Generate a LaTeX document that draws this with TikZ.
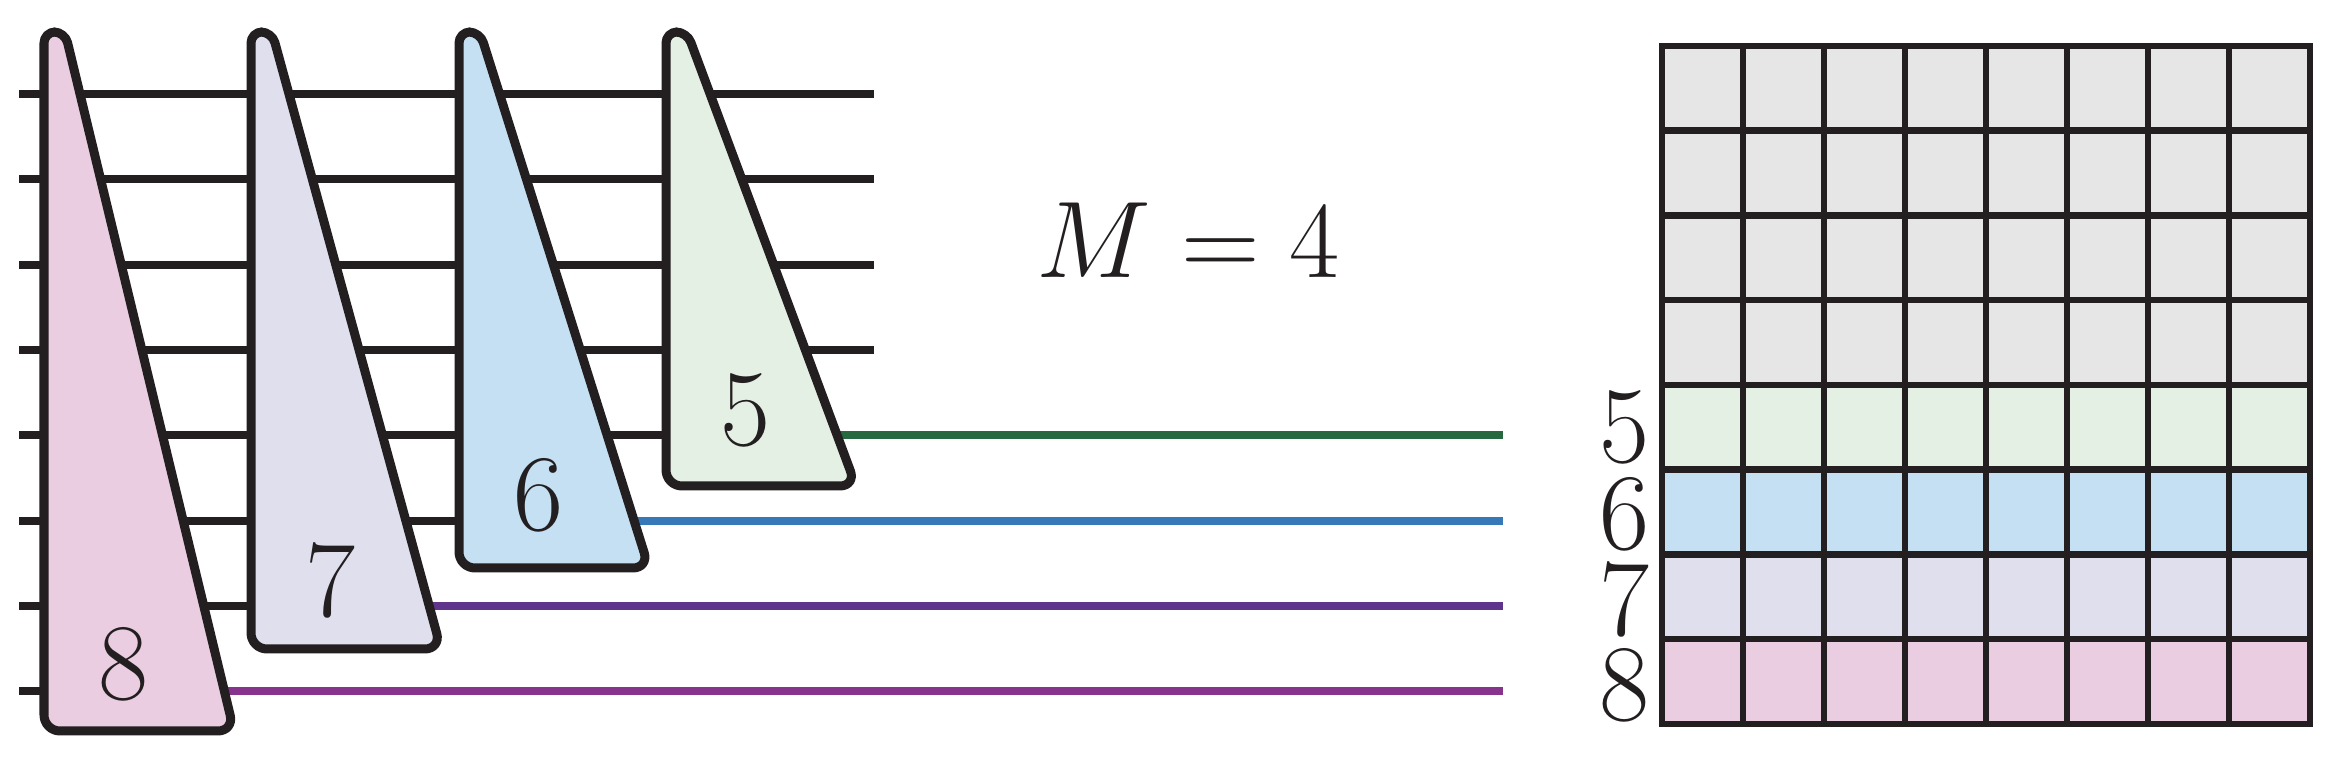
\RequirePackage{fix-cm}
\documentclass[tikz,border=0pt]{standalone}

\definecolor{ink}{HTML}{231F20}
\definecolor{fillpink}{HTML}{EACDE0}
\definecolor{filllav}{HTML}{DFDFEE}
\definecolor{fillblue}{HTML}{C6E0F3}
\definecolor{fillgreen}{HTML}{E4F0E4}
\definecolor{fillgrey}{HTML}{E6E6E6}
\definecolor{wiregreen}{HTML}{266840}
\definecolor{wireblue}{HTML}{3778B9}
\definecolor{wirepurple}{HTML}{5E348C}
\definecolor{wiremagenta}{HTML}{87328C}

\begin{document}
\begin{tikzpicture}[
  x=0.01cm, y=-0.01cm,
  every node/.style={font=\fontsize{31}{31}\selectfont, inner sep=0pt, text=ink},
  wire/.style={draw=ink, line width=0.075cm},
  gatebox/.style={draw=ink, line width=0.09cm, line join=round},
  gridline/.style={draw=ink, line width=0.065cm},
]
\useasboundingbox (0,0) rectangle (2334,768);

% Wire end points
\coordinate (w1l) at (19,94);  \coordinate (w1r) at (874,94);
\coordinate (w2l) at (19,179); \coordinate (w2r) at (874,179);
\coordinate (w3l) at (19,265); \coordinate (w3r) at (874,265);
\coordinate (w4l) at (19,350); \coordinate (w4r) at (874,350);
\coordinate (w5l) at (19,435); \coordinate (w5g) at (666,435); \coordinate (w5r) at (1503,435);
\coordinate (w6l) at (19,521); \coordinate (w6g) at (459,521); \coordinate (w6r) at (1503,521);
\coordinate (w7l) at (19,606); \coordinate (w7g) at (251,606); \coordinate (w7r) at (1503,606);
\coordinate (w8l) at (19,691); \coordinate (w8g) at (44,691);  \coordinate (w8r) at (1503,691);

% Black wires
\draw[wire] (w1l) -- (w1r);
\draw[wire] (w2l) -- (w2r);
\draw[wire] (w3l) -- (w3r);
\draw[wire] (w4l) -- (w4r);
\draw[wire] (w5l) -- (w5g);
\draw[wire] (w6l) -- (w6g);
\draw[wire] (w7l) -- (w7g);
\draw[wire] (w8l) -- (w8g);

% Coloured outputs
\draw[wire, draw=wiregreen] (w5g) -- (w5r);
\draw[wire, draw=wireblue] (w6g) -- (w6r);
\draw[wire, draw=wirepurple] (w7g) -- (w7r);
\draw[wire, draw=wiremagenta] (w8g) -- (w8r);

% Gate 8
\filldraw[gatebox, fill=fillpink] (44,400) [rounded corners=0.11cm] -- (44,32) -- (65,32)
  [rounded corners=0.16cm] -- (234,731) -- (44,731) -- cycle;
\node[anchor=base] (lab8) at (124,700) {8};

% Gate 7
\filldraw[gatebox, fill=filllav] (251,400) [rounded corners=0.11cm] -- (251,32) -- (272,32)
  [rounded corners=0.16cm] -- (441,649) -- (251,649) -- cycle;
\node[anchor=base] (lab7) at (331,617) {7};

% Gate 6
\filldraw[gatebox, fill=fillblue] (459,300) [rounded corners=0.11cm] -- (459,32) -- (480,32)
  [rounded corners=0.16cm] -- (649,568) -- (459,568) -- cycle;
\node[anchor=base] (lab6) at (539,531) {6};

% Gate 5
\filldraw[gatebox, fill=fillgreen] (666,300) [rounded corners=0.11cm] -- (666,32) -- (687,32)
  [rounded corners=0.16cm] -- (856,486) -- (666,486) -- cycle;
\node[anchor=base] (lab5) at (746,446) {5};

% Label
\node[anchor=base] (mlabel) at (1188,278) {$M = 4$};

% Register rows
\fill[fillgrey]  (1662,46)     rectangle (2310,385);
\fill[fillgreen] (1662,385)    rectangle (2310,469.75);
\fill[fillblue]  (1662,469.75) rectangle (2310,554.5);
\fill[filllav]   (1662,554.5)  rectangle (2310,639.25);
\fill[fillpink]  (1662,639.25) rectangle (2310,724);

% Grid
\foreach \i in {1,...,7} {
  \draw[gridline] ({1662+81*\i},46) -- ({1662+81*\i},724);
  \draw[gridline] (1662,{46+84.75*\i}) -- (2310,{46+84.75*\i});
}
\draw[gridline] (1662,46) rectangle (2310,724);

% Row numbers
\node[anchor=base, text height=0.66em, text depth=0pt] (row5) at (1624,463) {5};
\node[anchor=base, text height=0.66em, text depth=0pt] (row6) at (1624,550) {6};
\node[anchor=base, text height=0.66em, text depth=0pt] (row7) at (1624,636) {7};
\node[anchor=base, text height=0.66em, text depth=0pt] (row8) at (1624,721) {8};

\end{tikzpicture}
\end{document}
